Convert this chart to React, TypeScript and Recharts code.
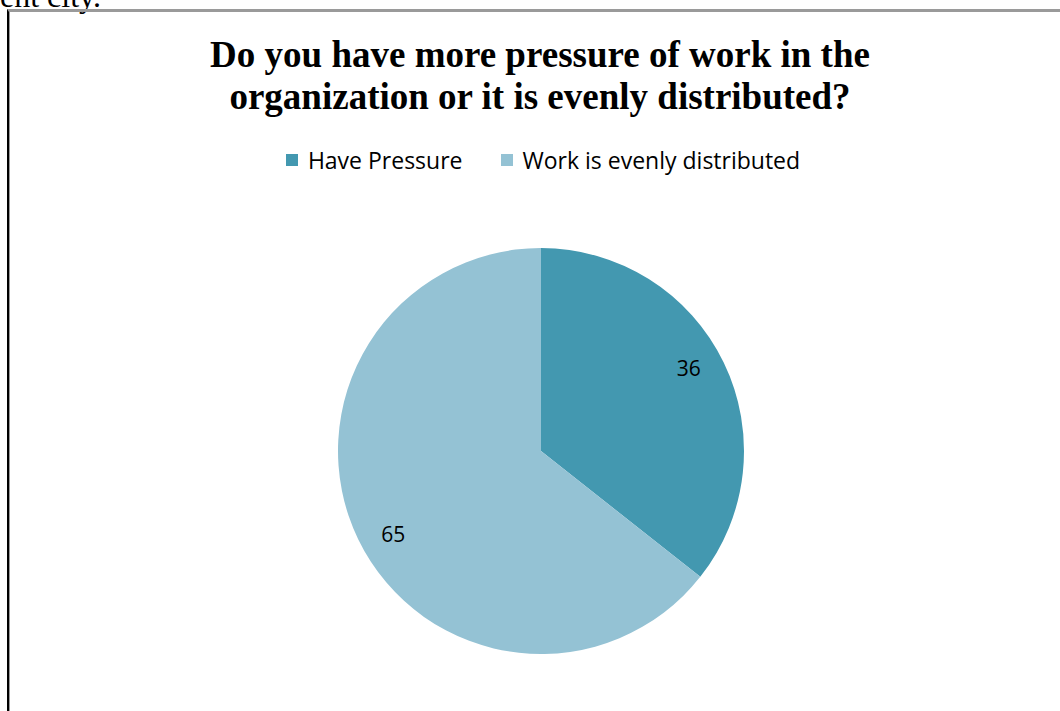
import React from 'react';
import { PieChart, Pie, Cell } from 'recharts';

const categories = ['Have Pressure', 'Work is evenly distributed'];
const responses = [36, 65];
const sliceColors = ['#4398B0', '#94C2D4'];

const titleLines = [
  'Do you have more pressure of work in the',
  'organization or it is evenly distributed?'
];

const data = categories.map((name, i) => ({ name, value: responses[i] }));

const RADIAN = Math.PI / 180;

// value labels sit inside each slice, a bit short of the rim and nudged
// slightly counter-clockwise like the office chart default
const renderLabel = (props: any) => {
  const { cx, cy, midAngle, outerRadius, value } = props;
  const r = outerRadius * 0.835;
  const a = (midAngle + 3.5) * RADIAN;
  const x = cx + r * Math.cos(-a);
  const y = cy + r * Math.sin(-a);
  return (
    <text
      x={x}
      y={y}
      fill="#000"
      textAnchor="middle"
      dominantBaseline="central"
      fontFamily="'Open Sans', sans-serif"
      fontSize={21}
    >
      {value}
    </text>
  );
};

const ChartLegend: React.FC = () => (
  <div
    style={{
      position: 'absolute',
      top: 144,
      left: 0,
      width: 1086,
      display: 'flex',
      justifyContent: 'center',
      gap: 38,
      fontFamily: "'Open Sans', sans-serif",
      fontSize: 23,
      lineHeight: '32px',
      color: '#000'
    }}
  >
    {categories.map((name, i) => (
      <div key={name} style={{ display: 'flex', alignItems: 'center' }}>
        <span
          style={{
            display: 'inline-block',
            width: 12,
            height: 12,
            backgroundColor: sliceColors[i],
            marginRight: 10
          }}
        />
        <span>{name}</span>
      </div>
    ))}
  </div>
);

const App: React.FC = () => {
  return (
    <div
      style={{
        position: 'fixed',
        top: 0,
        left: 0,
        width: 1060,
        height: 711,
        overflow: 'hidden',
        background: '#fff'
      }}
    >
      {/* tail end of the paragraph above the figure */}
      <div
        style={{
          position: 'absolute',
          top: -22,
          left: 0,
          fontFamily: "'Liberation Serif', serif",
          fontSize: 32,
          color: '#000',
          whiteSpace: 'nowrap'
        }}
      >
        ent city.
      </div>

      <div
        style={{
          position: 'absolute',
          top: 9,
          left: 7,
          width: 1100,
          height: 760,
          borderTop: '3px solid #9a9a9a',
          borderLeft: '2px solid #000',
          boxShadow: 'inset 1px 0 0 #9a9a9a'
        }}
      />

      <div
        style={{
          position: 'absolute',
          top: 34,
          left: 0,
          width: 1080,
          textAlign: 'center',
          fontFamily: "'Liberation Serif', serif",
          fontWeight: 'bold',
          fontSize: 37,
          lineHeight: '42px',
          color: '#000'
        }}
      >
        {titleLines.map(line => (
          <div key={line}>{line}</div>
        ))}
      </div>

      <ChartLegend />

      <div style={{ position: 'absolute', top: 0, left: 0 }}>
        <PieChart width={1080} height={711} margin={{ top: 0, right: 0, bottom: 0, left: 0 }}>
          <Pie
            data={data}
            dataKey="value"
            nameKey="name"
            cx={541}
            cy={451}
            outerRadius={203}
            startAngle={90}
            endAngle={-270}
            stroke="none"
            label={renderLabel}
            labelLine={false}
            isAnimationActive={false}
          >
            {data.map(d => (
              <Cell key={d.name} fill={sliceColors[categories.indexOf(d.name)]} />
            ))}
          </Pie>
        </PieChart>
      </div>
    </div>
  );
};

export default App;
